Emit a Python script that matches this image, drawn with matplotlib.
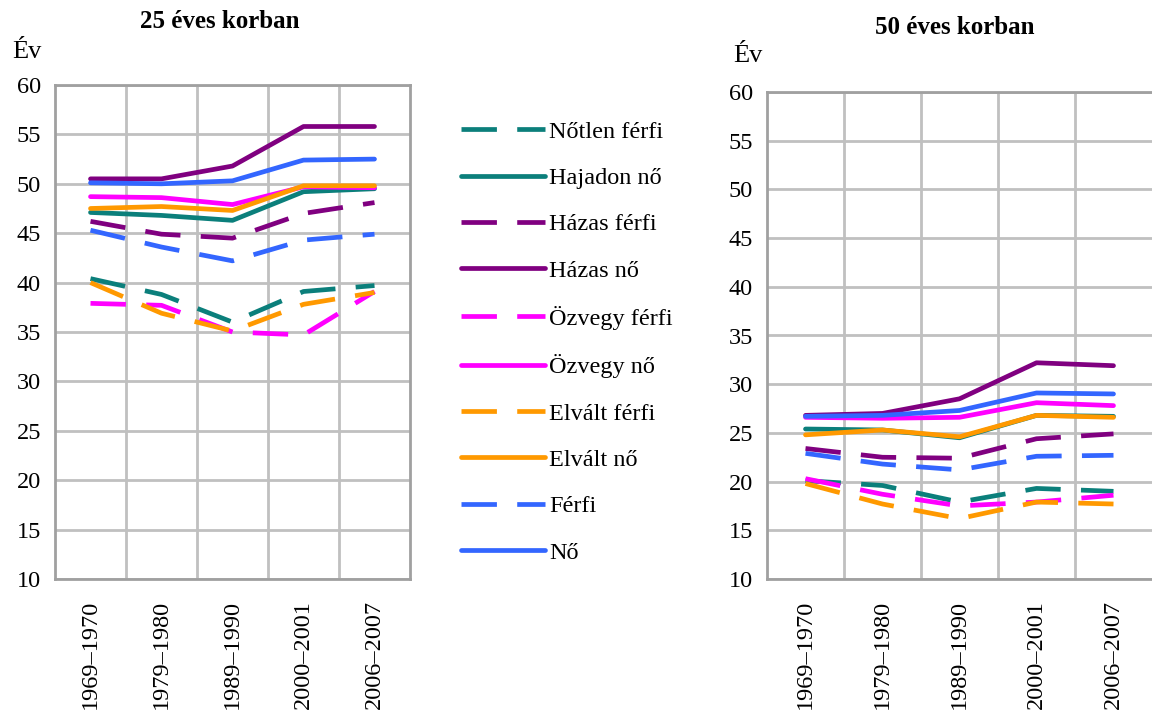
import matplotlib
matplotlib.use("Agg")
import matplotlib.pyplot as plt
from matplotlib.lines import Line2D

plt.rcParams["font.family"] = ["Liberation Serif", "DejaVu Serif"]

periods = ["1969–1970", "1979–1980", "1989–1990", "2000–2001", "2006–2007"]
labels = ["Nőtlen férfi", "Hajadon nő", "Házas férfi", "Házas nő", "Özvegy férfi",
          "Özvegy nő", "Elvált férfi", "Elvált nő", "Férfi", "Nő"]
colors = ["#0b7f7b", "#0b7f7b", "#800080", "#800080", "#ff00ff",
          "#ff00ff", "#ff9900", "#ff9900", "#3366ff", "#3366ff"]
dashed = [True, False, True, False, True, False, True, False, True, False]

# life expectancy at age 25
age25 = [
    [40.4, 38.8, 36.0, 39.1, 39.7],  # Nőtlen férfi
    [47.1, 46.8, 46.3, 49.2, 49.5],  # Hajadon nő
    [46.2, 44.9, 44.5, 47.0, 48.1],  # Házas férfi
    [50.5, 50.5, 51.8, 55.8, 55.8],  # Házas nő
    [37.9, 37.7, 35.0, 34.7, 39.1],  # Özvegy férfi
    [48.7, 48.6, 47.9, 49.7, 49.6],  # Özvegy nő
    [40.0, 36.9, 35.1, 37.8, 39.0],  # Elvált férfi
    [47.5, 47.7, 47.3, 49.8, 49.8],  # Elvált nő
    [45.3, 43.6, 42.2, 44.3, 44.9],  # Férfi
    [50.1, 50.0, 50.3, 52.4, 52.5],  # Nő
]

# life expectancy at age 50
age50 = [
    [20.1, 19.6, 17.9, 19.3, 19.0],
    [25.4, 25.3, 24.5, 26.8, 26.7],
    [23.4, 22.5, 22.4, 24.4, 24.9],
    [26.8, 27.0, 28.5, 32.2, 31.9],
    [20.3, 18.7, 17.5, 17.9, 18.6],
    [26.6, 26.5, 26.6, 28.1, 27.8],
    [19.8, 17.7, 16.2, 17.9, 17.7],
    [24.8, 25.3, 24.6, 26.8, 26.6],
    [22.9, 21.8, 21.2, 22.6, 22.7],
    [26.7, 26.8, 27.3, 29.1, 29.0],
]

W, H = 1152, 715
fig = plt.figure(figsize=(W / 100, H / 100), dpi=100)
fig.patch.set_facecolor("white")

LW = 3.4
DASH = (7.5, 4.3)
FS = 17.5
GRID = "#c0c0c0"


def draw(ax, data):
    x = list(range(len(periods)))
    for vals, c, d in zip(data, colors, dashed):
        if d:
            ax.plot(x, vals, color=c, lw=LW, dashes=DASH, dash_capstyle="butt")
        else:
            ax.plot(x, vals, color=c, lw=LW, solid_capstyle="round", solid_joinstyle="round")
    ax.set_xlim(-0.5, len(periods) - 0.5)
    ax.set_ylim(10, 60)
    ax.set_yticks(range(10, 61, 5))
    ax.set_xticks(x)
    ax.set_xticklabels(periods, rotation=90, fontsize=FS)
    ax.set_xticks([i + 0.5 for i in range(len(periods) - 1)], minor=True)
    ax.tick_params(axis="y", length=0, pad=10, labelsize=FS)
    ax.tick_params(axis="x", which="both", length=0, pad=15)
    ax.grid(axis="y", which="major", color=GRID, lw=2)
    ax.grid(axis="x", which="minor", color=GRID, lw=2)
    ax.set_axisbelow(True)
    for s in ax.spines.values():
        s.set_color("#a0a0a0")
        s.set_linewidth(2)


ax1 = fig.add_axes([55 / W, 136 / H, 355 / W, 494 / H])
draw(ax1, age25)
ax2 = fig.add_axes([767 / W, 136 / H, 385 / W, 487 / H])
draw(ax2, age50)
ax2.spines["right"].set_visible(False)

fig.text(220 / W, 1 - 22 / H, "25 éves korban", ha="center", va="center",
         fontsize=18, fontweight="bold")
fig.text(955 / W, 1 - 27 / H, "50 éves korban", ha="center", va="center",
         fontsize=18, fontweight="bold")
fig.text(12 / W, 1 - 52 / H, "Év", ha="left", va="center", fontsize=19)
fig.text(733 / W, 1 - 56 / H, "Év", ha="left", va="center", fontsize=19)

handles = []
for c, d in zip(colors, dashed):
    if d:
        handles.append(Line2D([], [], color=c, lw=LW, dashes=DASH, dash_capstyle="butt"))
    else:
        handles.append(Line2D([], [], color=c, lw=LW, solid_capstyle="round"))
fig.legend(handles, labels, loc="upper left", bbox_to_anchor=(451 / W, 1 - 111 / H),
           frameon=False, fontsize=FS, handlelength=3.45, handletextpad=0.2,
           labelspacing=1.0, borderaxespad=0)

fig.savefig("out.png", dpi=100, facecolor="white")
